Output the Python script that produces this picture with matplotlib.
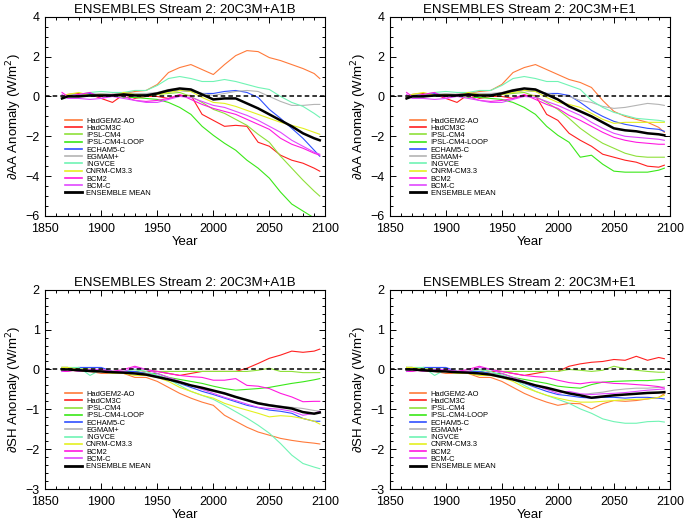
import numpy as np
import matplotlib
matplotlib.use('Agg')
import matplotlib.pyplot as plt
from matplotlib.ticker import MultipleLocator

plt.rcParams['font.family'] = ['Liberation Sans', 'DejaVu Sans']

# model names and colours
models = ['HadGEM2-AO', 'HadCM3C', 'IPSL-CM4', 'IPSL-CM4-LOOP', 'ECHAM5-C',
          'EGMAM+', 'INGVCE', 'CNRM-CM3.3', 'BCM2', 'BCM-C', 'ENSEMBLE MEAN']
colors = ['#ff7a3a', '#ff2020', '#8fe03a', '#3ae818', '#3050ff',
          '#b4b4b4', '#70f4b4', '#e4f020', '#ff18e0', '#e048ff', 'black']

# 20C3M part (shared by both scenarios)
hist_years = [1865, 1870, 1880, 1890, 1900, 1910, 1920, 1930, 1940, 1950,
              1960, 1970, 1980, 1990, 2000]
# scenario part
scen_years = [2010, 2020, 2030, 2040, 2050, 2060, 2070, 2080, 2090, 2095]

# dAA anomaly, historical
aa_hist = [
    [-0.1, 0.0, 0.0, 0.05, 0.1, 0.1, 0.15, 0.25, 0.3, 0.6, 1.2, 1.45, 1.6, 1.35, 1.1],
    [-0.1, 0.1, 0.15, 0.1, -0.1, -0.3, 0.1, -0.1, 0.0, 0.0, -0.1, 0.05, 0.05, -0.9, -1.2],
    [0.0, 0.0, 0.1, 0.05, 0.0, 0.1, 0.05, 0.1, 0.05, 0.1, 0.15, 0.2, 0.0, -0.3, -0.65],
    [0.0, 0.05, 0.1, 0.0, 0.05, 0.1, -0.05, -0.05, -0.1, -0.15, -0.3, -0.55, -0.9, -1.5, -1.95],
    [0.0, 0.05, 0.1, 0.15, 0.05, 0.1, 0.1, 0.15, 0.1, 0.15, 0.25, 0.3, 0.25, 0.15, 0.15],
    [0.0, 0.1, 0.05, 0.1, 0.15, 0.1, 0.2, 0.15, 0.15, 0.2, 0.35, 0.4, 0.3, 0.15, 0.05],
    [0.0, 0.0, 0.1, 0.2, 0.25, 0.2, 0.2, 0.3, 0.3, 0.55, 0.9, 1.0, 0.9, 0.75, 0.75],
    [0.0, 0.1, 0.2, 0.05, 0.1, 0.0, 0.2, 0.1, 0.05, 0.1, 0.2, 0.3, 0.25, -0.05, -0.3],
    [0.2, 0.0, 0.1, 0.2, -0.1, 0.1, 0.0, -0.2, -0.25, -0.2, -0.1, 0.1, -0.15, -0.4, -0.6],
    [0.1, -0.1, -0.1, -0.15, -0.1, 0.0, -0.1, -0.2, -0.3, -0.3, -0.15, 0.0, -0.05, -0.25, -0.45],
    [-0.1, 0.0, 0.0, 0.05, 0.05, 0.05, 0.1, 0.05, 0.05, 0.15, 0.3, 0.4, 0.35, 0.1, -0.15],
]
aa_a1b = [
    [1.6, 2.05, 2.3, 2.25, 1.95, 1.8, 1.6, 1.4, 1.15, 0.9],
    [-1.5, -1.45, -1.5, -2.3, -2.5, -2.95, -3.2, -3.35, -3.6, -3.75],
    [-0.85, -1.15, -1.45, -1.9, -2.3, -3.0, -3.6, -4.2, -4.75, -5.0],
    [-2.35, -2.7, -3.2, -3.6, -4.1, -4.8, -5.4, -5.75, -6.1, -6.3],
    [0.25, 0.3, 0.2, -0.05, -0.65, -1.1, -1.6, -2.1, -2.7, -3.0],
    [0.15, 0.25, 0.3, 0.25, 0.0, -0.25, -0.45, -0.45, -0.4, -0.4],
    [0.85, 0.75, 0.6, 0.45, 0.35, 0.0, -0.3, -0.5, -0.85, -1.05],
    [-0.35, -0.5, -0.7, -0.9, -1.1, -1.3, -1.45, -1.6, -1.8, -1.9],
    [-0.75, -0.9, -1.15, -1.4, -1.65, -2.1, -2.4, -2.6, -2.85, -2.95],
    [-0.55, -0.75, -0.95, -1.2, -1.5, -1.8, -2.2, -2.5, -2.8, -2.9],
    [-0.1, -0.1, -0.35, -0.6, -0.9, -1.2, -1.5, -1.85, -2.1, -2.2],
]
aa_e1 = [
    [0.85, 0.7, 0.45, -0.2, -0.75, -1.0, -1.15, -1.3, -1.55, -1.8],
    [-1.85, -2.2, -2.5, -2.9, -3.05, -3.2, -3.3, -3.5, -3.55, -3.45],
    [-1.1, -1.6, -2.0, -2.35, -2.6, -2.85, -3.0, -3.05, -3.05, -3.05],
    [-2.3, -3.05, -2.95, -3.4, -3.75, -3.8, -3.8, -3.8, -3.7, -3.6],
    [0.05, -0.3, -0.7, -1.0, -1.25, -1.4, -1.5, -1.6, -1.65, -1.75],
    [0.0, -0.2, -0.3, -0.5, -0.6, -0.55, -0.45, -0.35, -0.4, -0.45],
    [0.55, 0.35, -0.2, -0.55, -0.8, -0.95, -1.1, -1.15, -1.2, -1.25],
    [-0.4, -0.55, -0.85, -1.15, -1.35, -1.3, -1.3, -1.3, -1.3, -1.3],
    [-0.95, -1.2, -1.5, -1.8, -2.05, -2.2, -2.3, -2.35, -2.4, -2.4],
    [-0.7, -0.95, -1.3, -1.6, -1.85, -2.0, -2.05, -2.1, -2.15, -2.2],
    [-0.5, -0.75, -1.0, -1.3, -1.6, -1.7, -1.75, -1.85, -1.9, -1.95],
]

# dSH anomaly, historical
sh_hist = [
    [0.0, 0.0, -0.05, -0.05, -0.1, -0.1, -0.1, -0.2, -0.2, -0.3, -0.45, -0.6, -0.72, -0.82, -0.9],
    [0.05, 0.05, 0.0, 0.0, -0.05, -0.05, -0.05, -0.1, -0.05, -0.05, -0.1, -0.15, -0.1, -0.05, -0.05],
    [0.05, 0.0, 0.05, 0.0, 0.0, -0.05, -0.05, -0.05, 0.0, -0.05, -0.05, -0.05, -0.05, -0.05, -0.05],
    [0.05, 0.05, 0.0, 0.0, -0.05, -0.05, -0.1, -0.05, -0.1, -0.1, -0.2, -0.25, -0.3, -0.35, -0.42],
    [0.0, 0.0, 0.05, 0.05, 0.05, -0.05, -0.05, -0.05, -0.1, -0.15, -0.25, -0.35, -0.45, -0.55, -0.63],
    [0.0, -0.05, 0.0, -0.05, -0.05, -0.1, -0.1, -0.1, -0.1, -0.15, -0.25, -0.35, -0.4, -0.5, -0.55],
    [0.05, 0.05, 0.05, -0.15, 0.0, -0.05, -0.05, 0.0, -0.05, -0.15, -0.25, -0.4, -0.55, -0.65, -0.75],
    [0.05, 0.05, 0.0, 0.0, -0.05, -0.1, -0.1, -0.15, -0.15, -0.2, -0.3, -0.45, -0.55, -0.65, -0.72],
    [-0.05, -0.05, 0.0, -0.05, 0.0, -0.05, 0.0, 0.08, 0.0, -0.05, -0.1, -0.15, -0.18, -0.2, -0.27],
    [-0.05, 0.0, -0.05, 0.0, 0.0, -0.05, -0.05, 0.05, 0.0, -0.1, -0.2, -0.3, -0.4, -0.5, -0.6],
    [0.0, 0.0, -0.02, -0.04, -0.05, -0.07, -0.08, -0.1, -0.13, -0.19, -0.25, -0.32, -0.4, -0.46, -0.53],
]
sh_a1b = [
    [-1.15, -1.3, -1.45, -1.57, -1.65, -1.73, -1.78, -1.82, -1.85, -1.87],
    [-0.05, -0.05, 0.03, 0.15, 0.28, 0.36, 0.46, 0.43, 0.46, 0.51],
    [-0.05, -0.05, -0.05, -0.02, 0.03, -0.05, -0.05, -0.08, -0.08, -0.08],
    [-0.48, -0.52, -0.5, -0.48, -0.45, -0.4, -0.35, -0.31, -0.26, -0.23],
    [-0.72, -0.81, -0.9, -0.96, -1.02, -1.05, -1.1, -1.23, -1.3, -1.3],
    [-0.62, -0.7, -0.77, -0.83, -0.88, -0.92, -0.95, -0.98, -1.03, -1.05],
    [-0.9, -1.06, -1.22, -1.4, -1.6, -1.86, -2.15, -2.36, -2.45, -2.49],
    [-0.85, -0.94, -1.02, -1.1, -1.19, -1.16, -1.18, -1.23, -1.3, -1.37],
    [-0.27, -0.23, -0.4, -0.42, -0.48, -0.6, -0.69, -0.81, -0.8, -0.8],
    [-0.7, -0.78, -0.87, -0.95, -0.98, -1.0, -1.05, -1.15, -1.1, -1.05],
    [-0.6, -0.69, -0.77, -0.85, -0.9, -0.94, -0.98, -1.07, -1.11, -1.08],
]
sh_e1 = [
    [-0.85, -0.86, -0.99, -0.86, -0.78, -0.8, -0.78, -0.74, -0.7, -0.61],
    [0.08, 0.14, 0.18, 0.2, 0.25, 0.23, 0.33, 0.23, 0.3, 0.27],
    [0.0, -0.02, -0.05, -0.02, 0.08, 0.02, -0.02, -0.05, -0.07, -0.07],
    [-0.45, -0.47, -0.38, -0.32, -0.3, -0.29, -0.28, -0.28, -0.26, -0.25],
    [-0.66, -0.7, -0.72, -0.7, -0.7, -0.72, -0.7, -0.7, -0.72, -0.74],
    [-0.6, -0.65, -0.6, -0.57, -0.52, -0.49, -0.47, -0.47, -0.45, -0.44],
    [-0.85, -0.99, -1.1, -1.24, -1.31, -1.35, -1.35, -1.31, -1.3, -1.32],
    [-0.78, -0.82, -0.82, -0.8, -0.78, -0.76, -0.75, -0.74, -0.7, -0.65],
    [-0.33, -0.36, -0.32, -0.32, -0.35, -0.36, -0.38, -0.4, -0.43, -0.47],
    [-0.55, -0.61, -0.63, -0.61, -0.6, -0.58, -0.55, -0.52, -0.5, -0.49],
    [-0.6, -0.65, -0.71, -0.68, -0.65, -0.63, -0.61, -0.59, -0.58, -0.57],
]

years = hist_years + scen_years

fig = plt.figure(figsize=(6.85, 5.23), dpi=100)
boxes = [[0.066, 0.587, 0.409, 0.381], [0.569, 0.587, 0.409, 0.381],
         [0.066, 0.065, 0.409, 0.381], [0.569, 0.065, 0.409, 0.381]]
panels = [(aa_hist, aa_a1b, 'A1B', '∂AA'), (aa_hist, aa_e1, 'E1', '∂AA'),
          (sh_hist, sh_a1b, 'A1B', '∂SH'), (sh_hist, sh_e1, 'E1', '∂SH')]

for box, (hist, scen, scn, var) in zip(boxes, panels):
    ax = fig.add_axes(box)
    for i, name in enumerate(models):
        vals = hist[i] + scen[i]
        lw = 1.8 if name == 'ENSEMBLE MEAN' else 0.8
        ax.plot(years, vals, color=colors[i], lw=lw, label=name,
                zorder=3 if name == 'ENSEMBLE MEAN' else 2)
    ax.axhline(0, color='black', ls=(0, (3, 2)), lw=1.1, zorder=4)
    ax.set_xlim(1850, 2100)
    ax.xaxis.set_major_locator(MultipleLocator(50))
    ax.xaxis.set_minor_locator(MultipleLocator(10))
    if var == '∂AA':
        ax.set_ylim(-6, 4)
        ax.yaxis.set_major_locator(MultipleLocator(2))
        ax.yaxis.set_minor_locator(MultipleLocator(0.5))
    else:
        ax.set_ylim(-3, 2)
        ax.yaxis.set_major_locator(MultipleLocator(1))
        ax.yaxis.set_minor_locator(MultipleLocator(0.2))
    ax.tick_params(which='both', direction='in', top=True, right=True,
                   labelsize=9, width=0.7)
    ax.tick_params(which='major', length=4)
    ax.tick_params(which='minor', length=2)
    ax.tick_params(axis='x', pad=5)
    ax.tick_params(axis='y', pad=4)
    for s in ax.spines.values():
        s.set_linewidth(0.8)
    ax.set_title('ENSEMBLES Stream 2: 20C3M+' + scn, fontsize=9.5, pad=3)
    ax.set_xlabel('Year', fontsize=9.5, labelpad=1)
    ax.set_ylabel(var + ' Anomaly (W/m$^2$)', fontsize=9.5, labelpad=1)
    leg = ax.legend(loc='upper left', bbox_to_anchor=(0.06, 0.51), frameon=False,
                    fontsize=5.4, labelspacing=0.0, handlelength=2.2,
                    handletextpad=0.6, borderaxespad=0)
    for h in leg.get_lines():
        h.set_linewidth(2.0 if h.get_color() == 'black' else 1.2)

fig.savefig('out.png', dpi=100)
